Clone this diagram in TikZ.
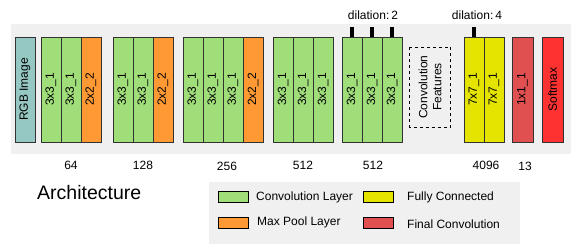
\documentclass[tikz,border=0pt]{standalone}
\usepackage{fontspec}
\setmainfont{Liberation Sans}
\definecolor{convg}{RGB}{160,222,122}
\definecolor{poolo}{RGB}{255,153,51}
\definecolor{rgbt}{RGB}{150,200,195}
\definecolor{fcy}{RGB}{228,228,0}
\definecolor{finr}{RGB}{224,80,80}
\definecolor{smr}{RGB}{255,50,50}
\definecolor{bgg}{RGB}{240,240,240}
\definecolor{edge}{RGB}{50,50,50}
\tikzset{
  cell/.style={draw=edge, line width=0.8pt, rotate=90, minimum width=105pt, minimum height=20pt, inner sep=0pt, font=\fontsize{12}{13}\selectfont},
  conv/.style={cell, fill=convg},
  pool/.style={cell, fill=poolo},
  fc/.style={cell, fill=fcy},
  tick/.style={fill=black, minimum width=4pt, minimum height=10pt, inner sep=0pt},
  lbl/.style={font=\fontsize{12}{13}\selectfont, inner sep=0pt},
  swatch/.style={draw=black, line width=0.8pt, minimum width=30pt, minimum height=11pt, inner sep=0pt},
}
\begin{document}
\begin{tikzpicture}[x=1pt,y=-1pt]
\useasboundingbox (0,0) rectangle (573,246);
\fill[bgg] (11,24) rectangle (571,154);
\fill[bgg] (209,182) rectangle (520,244);
% boxes
\node[cell, fill=rgbt] (rgb) at (25,89.5) {RGB Image};
\node[conv] (a1) at (51,89.5) {3x3\_1};
\node[conv] (a2) at (71,89.5) {3x3\_1};
\node[pool] (a3) at (91,89.5) {2x2\_2};
\node[conv] (b1) at (123,89.5) {3x3\_1};
\node[conv] (b2) at (143,89.5) {3x3\_1};
\node[pool] (b3) at (163,89.5) {2x2\_2};
\node[conv] (c1) at (193,89.5) {3x3\_1};
\node[conv] (c2) at (213,89.5) {3x3\_1};
\node[conv] (c3) at (233,89.5) {3x3\_1};
\node[pool] (c4) at (253,89.5) {2x2\_2};
\node[conv] (d1) at (283,89.5) {3x3\_1};
\node[conv] (d2) at (303,89.5) {3x3\_1};
\node[conv] (d3) at (323,89.5) {3x3\_1};
\node[conv] (e1) at (352,89.5) {3x3\_1};
\node[conv] (e2) at (372,89.5) {3x3\_1};
\node[conv] (e3) at (392,89.5) {3x3\_1};
\node[draw=black, dashed, line width=0.8pt, rotate=90, minimum width=80pt, minimum height=41pt, inner sep=0pt, align=center, font=\fontsize{12}{14}\selectfont] (cf) at (430,87) {Convolution\\Features};
\node[fc] (f1) at (474,89.5) {7x7\_1};
\node[fc] (f2) at (494,89.5) {7x7\_1};
\node[cell, fill=finr, minimum height=21pt] (g1) at (522.5,89.5) {1x1\_1};
\node[cell, fill=smr, minimum height=21pt] (sm) at (552.5,89.5) {Softmax};
% dilation ticks
\node[tick] (t1) at (352,32) {};
\node[tick] (t2) at (372,32) {};
\node[tick] (t3) at (392,32) {};
\node[tick] (t4) at (474,32) {};
\node[lbl] (dl2) at (373,15) {dilation:\,2};
\node[lbl] (dl4) at (477,15) {dilation:\,4};
% sizes
\node[lbl] (n1) at (71,165) {64};
\node[lbl] (n2) at (143,165) {128};
\node[lbl] (n3) at (227,166) {256};
\node[lbl] (n4) at (303,165) {512};
\node[lbl] (n5) at (373,165) {512};
\node[lbl] (n6) at (486,165) {4096};
\node[lbl] (n7) at (525,166) {13};
\node[font=\fontsize{19.5}{21}\selectfont, inner sep=0pt, anchor=west] (arch) at (37,193) {Architecture};
% legend
\node[swatch, fill=convg] (s1) at (233,196.5) {};
\node[swatch, fill=poolo] (s2) at (233,223) {};
\node[swatch, fill=fcy] (s3) at (378.5,196.5) {};
\node[swatch, fill=finr] (s4) at (378.5,223) {};
\node[lbl, anchor=west] (l1) at (256,197) {Convolution Layer};
\node[lbl, anchor=west] (l2) at (257,222) {Max Pool Layer};
\node[lbl, anchor=west] (l3) at (407,197) {Fully Connected};
\node[lbl, anchor=west] (l4) at (407,224.5) {Final Convolution};
\end{tikzpicture}
\end{document}
